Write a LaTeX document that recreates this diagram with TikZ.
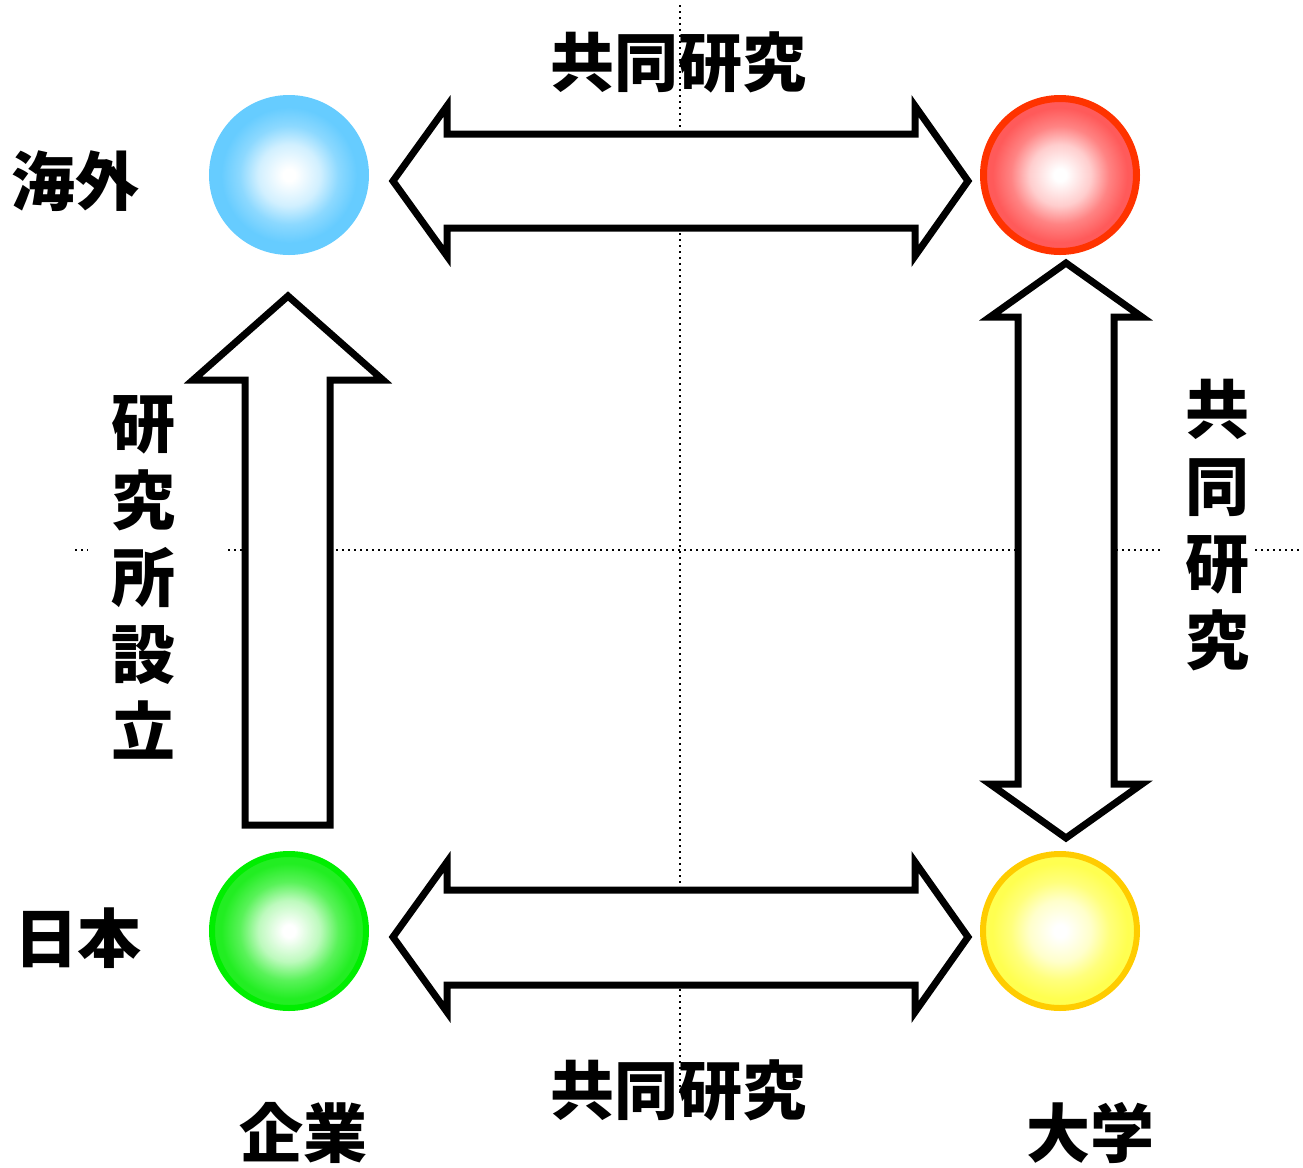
\documentclass[tikz,border=0pt]{standalone}
\usepackage{fontspec}
\setmainfont{Noto Sans CJK JP}
\definecolor{ballblue}{HTML}{66CCFF}
\definecolor{ballred}{HTML}{FF5A5A}
\definecolor{rimred}{HTML}{FF3300}
\definecolor{ballgreen}{HTML}{22EE22}
\definecolor{rimgreen}{HTML}{00EE00}
\definecolor{ballyellow}{HTML}{FFFF50}
\definecolor{rimyellow}{HTML}{FFCC00}
\colorlet{bbA}{ballblue!30!white}\colorlet{bbB}{ballblue!75!white}
\colorlet{brA}{ballred!30!white}\colorlet{brB}{ballred!75!white}
\colorlet{bgA}{ballgreen!30!white}\colorlet{bgB}{ballgreen!75!white}
\colorlet{byA}{ballyellow!30!white}\colorlet{byB}{ballyellow!75!white}
\pgfdeclareradialshading{shblue}{\pgfpoint{0bp}{0bp}}{color(0bp)=(white); color(2bp)=(white); color(10bp)=(bbA); color(16bp)=(bbB); color(22bp)=(ballblue); color(50bp)=(ballblue)}
\pgfdeclareradialshading{shred}{\pgfpoint{0bp}{0bp}}{color(0bp)=(white); color(2bp)=(white); color(10bp)=(brA); color(16bp)=(brB); color(22bp)=(ballred); color(50bp)=(ballred)}
\pgfdeclareradialshading{shgreen}{\pgfpoint{0bp}{0bp}}{color(0bp)=(white); color(2bp)=(white); color(10bp)=(bgA); color(16bp)=(bgB); color(22bp)=(ballgreen); color(50bp)=(ballgreen)}
\pgfdeclareradialshading{shyellow}{\pgfpoint{0bp}{0bp}}{color(0bp)=(white); color(2bp)=(white); color(10bp)=(byA); color(16bp)=(byB); color(22bp)=(ballyellow); color(50bp)=(ballyellow)}
\begin{document}
\begin{tikzpicture}[x=0.5pt,y=-0.5pt,
  ball/.style={circle, minimum size=77pt, inner sep=0pt, line width=3pt},
  blockarrow/.style={draw=black, line width=3.5pt, fill=white, line join=miter},
  guide/.style={line width=1pt, dash pattern=on 1pt off 2pt, line cap=butt},
  lbl/.style={font=\bfseries\fontsize{32}{38.5}\selectfont, inner sep=0pt, align=center}]
\useasboundingbox (0,0) rectangle (1303,1168);
% guide lines
\draw[guide] (680,5) -- (680,1095);
\draw[guide] (75,550) -- (88,550);
\draw[guide] (228,550) -- (1163,550);
\draw[guide] (1255,550) -- (1303,550);
% balls
\node[ball, shading=shblue, draw=ballblue] (blue) at (289,175) {};
\node[ball, shading=shred, draw=rimred, line width=3.5pt, minimum size=76.5pt] (red) at (1060,175) {};
\node[ball, shading=shgreen, draw=rimgreen] (green) at (289,931) {};
\node[ball, shading=shyellow, draw=rimyellow] (yellow) at (1060,931) {};
% block arrows
\draw[blockarrow] (393,181) -- (447,106) -- (447,134) -- (915,134) -- (915,106) -- (968,181) -- (915,256) -- (915,228) -- (447,228) -- (447,256) -- cycle;
\draw[blockarrow] (393,937) -- (447,862) -- (447,890) -- (915,890) -- (915,862) -- (968,937) -- (915,1012) -- (915,985) -- (447,985) -- (447,1012) -- cycle;
\draw[blockarrow] (1066,263) -- (1142,317) -- (1114,317) -- (1114,784) -- (1142,784) -- (1066,838) -- (990,784) -- (1018,784) -- (1018,317) -- (990,317) -- cycle;
\draw[blockarrow] (288,296) -- (383,380) -- (330,380) -- (330,825) -- (245,825) -- (245,380) -- (193,380) -- cycle;
% labels
\node[lbl] (ttop) at (678,62) {共同研究};
\node[lbl] (tbot) at (678,1090) {共同研究};
\node[lbl] (tkaigai) at (75,181) {海外};
\node[lbl] (tnihon) at (78,938) {日本};
\node[lbl] (tkigyo) at (303,1133) {企業};
\node[lbl] (tdaigaku) at (1090,1133) {大学};
\node[lbl] (tsetsu) at (143,577) {研\\究\\所\\設\\立};
\node[lbl] (tright) at (1217,525) {共\\同\\研\\究};
\end{tikzpicture}
\end{document}
